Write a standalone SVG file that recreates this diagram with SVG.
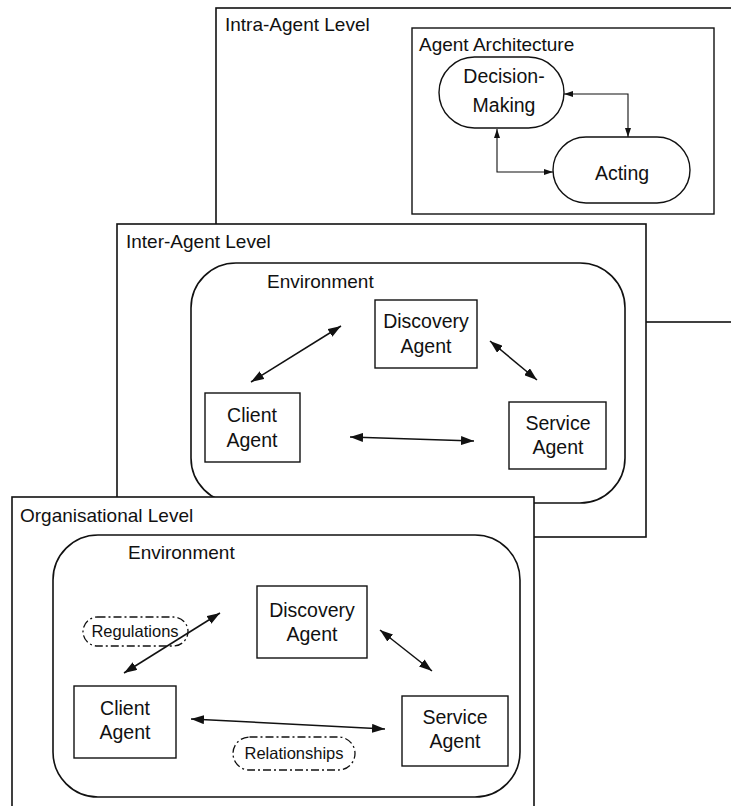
<svg xmlns="http://www.w3.org/2000/svg" width="731" height="806" viewBox="0 0 731 806">
  <style>
    .panel { fill: #fff; stroke: #111; stroke-width: 1.6; }
    .env { fill: none; stroke: #111; stroke-width: 1.6; }
    .box { fill: #fff; stroke: #111; stroke-width: 1.4; }
    .oval { fill: #fff; stroke: #111; stroke-width: 1.4; }
    .note { fill: #fff; stroke: #111; stroke-width: 1.3; stroke-dasharray: 8 3 2 3; }
    .title { font-family: "Liberation Sans", Arial, sans-serif; font-size: 19px; fill: #111; }
    .label { font-family: "Liberation Sans", Arial, sans-serif; font-size: 19.5px; fill: #111; text-anchor: middle; }
    .small { font-family: "Liberation Sans", Arial, sans-serif; font-size: 16.5px; fill: #111; text-anchor: middle; }
    .link { fill: none; stroke: #111; stroke-width: 1.5; marker-start: url(#head); marker-end: url(#head); }
    .thin { fill: none; stroke: #111; stroke-width: 1.1; marker-start: url(#tip); marker-end: url(#tip); }
  </style>
  <defs>
    <marker id="head" viewBox="0 0 13 9" refX="13" refY="4.5" markerUnits="userSpaceOnUse" markerWidth="13" markerHeight="9" orient="auto-start-reverse">
      <path d="M0,0 L13,4.5 L0,9 z" fill="#111"/>
    </marker>
    <marker id="tip" viewBox="0 0 9 6" refX="9" refY="3" markerUnits="userSpaceOnUse" markerWidth="9" markerHeight="6" orient="auto-start-reverse">
      <path d="M0,0 L9,3 L0,6 z" fill="#111"/>
    </marker>
  </defs>

  <!-- Intra-agent level (back layer) -->
  <g id="intra-agent-level">
    <rect class="panel" x="216" y="8" width="530" height="314"/>
    <text class="title" x="225" y="31">Intra-Agent Level</text>
  </g>
  <g id="agent-architecture">
    <rect class="box" x="412" y="28" width="302" height="186"/>
    <text class="title" x="419" y="51">Agent Architecture</text>
  </g>
  <g id="decision-making">
    <rect class="oval" x="439" y="57" width="125" height="71" rx="35.5" ry="35.5"/>
    <text class="label" x="504" y="83">Decision-</text>
    <text class="label" x="504" y="112">Making</text>
  </g>
  <g id="acting">
    <rect class="oval" x="553" y="137" width="137" height="66" rx="33" ry="33"/>
    <text class="label" x="622" y="180">Acting</text>
  </g>
  <g id="intra-connectors">
    <path class="thin" d="M564,94 H628 V137"/>
    <path class="thin" d="M497,129 V172 H553"/>
  </g>

  <!-- Inter-agent level (middle layer) -->
  <g id="inter-agent-level">
    <rect class="panel" x="117" y="224" width="529" height="313"/>
    <text class="title" x="126" y="248">Inter-Agent Level</text>
    <rect class="env" x="191" y="263" width="434" height="240" rx="45" ry="45"/>
    <text class="title" x="267" y="288">Environment</text>
  </g>
  <g id="inter-discovery-agent">
    <rect class="box" x="375" y="300" width="102" height="68"/>
    <text class="label" x="426" y="328">Discovery</text>
    <text class="label" x="426" y="353">Agent</text>
  </g>
  <g id="inter-client-agent">
    <rect class="box" x="205" y="393" width="95" height="69"/>
    <text class="label" x="252" y="422">Client</text>
    <text class="label" x="252" y="447">Agent</text>
  </g>
  <g id="inter-service-agent">
    <rect class="box" x="509" y="402" width="97" height="67"/>
    <text class="label" x="558" y="430">Service</text>
    <text class="label" x="558" y="454">Agent</text>
  </g>
  <g id="inter-connectors">
    <line class="link" x1="251" y1="382" x2="341" y2="326"/>
    <line class="link" x1="490" y1="341" x2="537" y2="380"/>
    <line class="link" x1="350" y1="437" x2="474" y2="441"/>
  </g>

  <!-- Organisational level (front layer) -->
  <g id="organisational-level">
    <rect class="panel" x="12" y="497" width="522" height="330"/>
    <text class="title" x="20" y="522">Organisational Level</text>
    <rect class="env" x="53" y="535" width="467" height="262" rx="45" ry="45"/>
    <text class="title" x="128" y="559">Environment</text>
  </g>
  <g id="org-discovery-agent">
    <rect class="box" x="257" y="586" width="110" height="72"/>
    <text class="label" x="312" y="617">Discovery</text>
    <text class="label" x="312" y="641">Agent</text>
  </g>
  <g id="org-client-agent">
    <rect class="box" x="74" y="686" width="102" height="72"/>
    <text class="label" x="125" y="715">Client</text>
    <text class="label" x="125" y="739">Agent</text>
  </g>
  <g id="org-service-agent">
    <rect class="box" x="402" y="696" width="106" height="70"/>
    <text class="label" x="455" y="724">Service</text>
    <text class="label" x="455" y="748">Agent</text>
  </g>
  <g id="regulations">
    <rect class="note" x="83" y="617" width="105" height="29" rx="14.5" ry="14.5"/>
    <text class="small" x="135" y="637">Regulations</text>
  </g>
  <g id="relationships">
    <rect class="note" x="233" y="737" width="122" height="33" rx="16.5" ry="16.5"/>
    <text class="small" x="294" y="759">Relationships</text>
  </g>
  <g id="org-connectors">
    <line class="link" x1="124" y1="673" x2="220" y2="613"/>
    <line class="link" x1="380" y1="630" x2="432" y2="671"/>
    <line class="link" x1="191" y1="719" x2="385" y2="729"/>
  </g>
</svg>
